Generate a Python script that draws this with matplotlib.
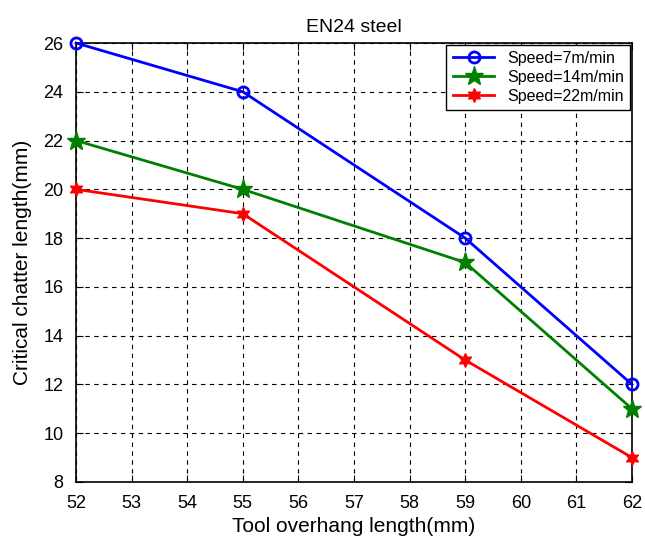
import matplotlib
matplotlib.use("Agg")
import matplotlib.pyplot as plt

plt.rcParams['font.family'] = ['Liberation Sans', 'DejaVu Sans']

overhang = [52, 55, 59, 62]
speed_7 = [26, 24, 18, 12]
speed_14 = [22, 20, 17, 11]
speed_22 = [20, 19, 13, 9]
labels = ["Speed=7m/min", "Speed=14m/min", "Speed=22m/min"]

fig = plt.figure(figsize=(6.45, 5.43), dpi=100)
ax = fig.add_axes([76 / 645, 1 - 482 / 543, (632 - 76) / 645, (482 - 43) / 543])

ax.plot(overhang, speed_7, color="blue", lw=2, marker="o", ms=8,
        mfc="none", mew=2, label=labels[0], clip_on=False, zorder=5)
ax.plot(overhang, speed_14, color="green", lw=2, marker="*", ms=14,
        label=labels[1], clip_on=False, zorder=5)
ax.plot(overhang, speed_22, color="red", lw=2, marker=(6, 1, 0), ms=10,
        label=labels[2], clip_on=False, zorder=5)

ax.set_xlim(52, 62)
ax.set_ylim(8, 26)
ax.set_xticks(range(52, 63))
ax.set_yticks(range(8, 27, 2))
ax.grid(True, color="black", linestyle=(0, (4, 4)), lw=0.8)
ax.tick_params(direction="in", labelsize=13, length=5, pad=9,
               top=True, right=True)
for s in ax.spines.values():
    s.set_linewidth(1.2)

ax.set_title("EN24 steel", fontsize=14, pad=8)
ax.set_xlabel("Tool overhang length(mm)", fontsize=15, labelpad=4)
ax.set_ylabel("Critical chatter length(mm)", fontsize=15, labelpad=8)

leg = ax.legend(loc="upper right", fontsize=11.5, fancybox=False,
                framealpha=1, edgecolor="black", borderaxespad=0.1,
                handlelength=2.6, labelspacing=0.25, borderpad=0.4)
leg.get_frame().set_linewidth(1)

fig.savefig("out.png", dpi=100)
